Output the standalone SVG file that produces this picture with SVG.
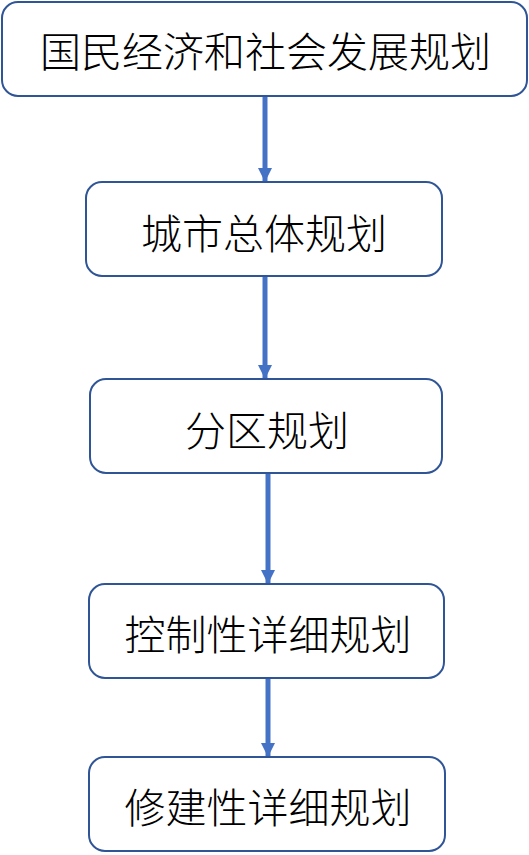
<svg xmlns="http://www.w3.org/2000/svg" width="529" height="855" viewBox="0 0 529 855">
<style>
.box{fill:#fff;stroke:#2F5597;stroke-width:2}
.lbl{font-family:"Noto Sans CJK SC","Noto Sans CJK JP",sans-serif;font-size:41px;font-weight:300;fill:#000;text-anchor:middle;dominant-baseline:central}
.con{stroke:#4472C4;stroke-width:5;fill:none;marker-end:url(#ah)}
</style>
<defs>
<marker id="ah" markerUnits="userSpaceOnUse" markerWidth="16" markerHeight="14" refX="14" refY="7" orient="auto">
<path d="M0,0 L14,7 L0,14 Z" fill="#4472C4"/>
</marker>
</defs>
<rect width="529" height="855" fill="#fff"/>
<g id="connectors">
<line class="con" x1="265" y1="97" x2="265" y2="182"/>
<line class="con" x1="265" y1="277" x2="265" y2="379"/>
<line class="con" x1="268" y1="474" x2="268" y2="584"/>
<line class="con" x1="268" y1="679" x2="268" y2="757"/>
</g>
<g id="n1"><rect class="box" x="2" y="2" width="525" height="94" rx="16"/><text class="lbl" x="265.5" y="49">国民经济和社会发展规划</text></g>
<g id="n2"><rect class="box" x="86" y="182" width="356" height="94" rx="16"/><text class="lbl" x="264" y="231">城市总体规划</text></g>
<g id="n3"><rect class="box" x="90" y="379" width="352" height="94" rx="16"/><text class="lbl" x="267" y="428">分区规划</text></g>
<g id="n4"><rect class="box" x="89" y="584" width="355" height="94" rx="16"/><text class="lbl" x="268" y="632">控制性详细规划</text></g>
<g id="n5"><rect class="box" x="89" y="757" width="356" height="94" rx="16"/><text class="lbl" x="268" y="805">修建性详细规划</text></g>
</svg>
